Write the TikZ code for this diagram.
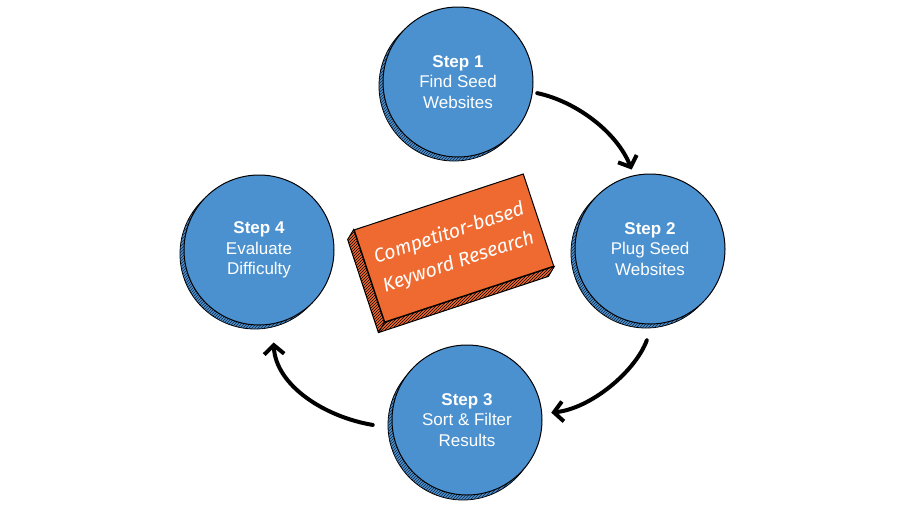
\documentclass[tikz,border=0pt]{standalone}
\usepackage{fontspec}
\setmainfont{Liberation Sans}
\newfontfamily\handfont{Fira Sans}
\usetikzlibrary{calc,patterns,arrows.meta}
\definecolor{stepblue}{HTML}{4B91CF}
\definecolor{boxorange}{HTML}{EF6A30}
\definecolor{hatchcol}{HTML}{17253F}
\pgfdeclarelayer{background}
\pgfsetlayers{background,main}
\begin{document}
\begin{tikzpicture}[x=1pt,y=-1pt,
  stepcircle/.style={circle, fill=stepblue, draw=black, line width=1pt,
    minimum size=150pt, inner sep=0pt, text=white, align=center,
    font=\fontsize{17}{20.5}\selectfont},
  stepshadow/.style={circle, fill=stepblue, draw=black, line width=0.8pt,
    minimum size=150pt, inner sep=0pt,
    postaction={pattern=north east lines, pattern color=hatchcol}},
  flowarrow/.style={line width=4pt, line cap=round,
    -{Straight Barb[length=9pt,width=20pt]}},
  kwbox/.style={rectangle, fill=boxorange, draw=black, line width=1pt,
    minimum width=178pt, minimum height=97pt, rotate=18.3, text=white,
    align=center, font=\handfont\itshape\fontsize{19.5}{30}\selectfont}]
\useasboundingbox (0,0) rectangle (900,520);

% shadows of the circles
\node[stepshadow] (s1sh) at (454,86) {};
\node[stepshadow] (s2sh) at (646,253) {};
\node[stepshadow] (s3sh) at (463,425) {};
\node[stepshadow] (s4sh) at (255,254) {};

% step circles
\node[stepcircle] (s1) at (458,82) {\textbf{Step 1}\\Find Seed\\Websites};
\node[stepcircle] (s2) at (650,249) {\textbf{Step 2}\\Plug Seed\\Websites};
\node[stepcircle] (s3) at (467,420) {\textbf{Step 3}\\Sort \& Filter\\Results};
\node[stepcircle] (s4) at (259,250) {\textbf{Step 4}\\Evaluate\\Difficulty};

% central box
\node[kwbox] (kw) at (454,248) {Competitor-based\\Keyword Research};
\begin{pgfonlayer}{background}
  \draw[fill=boxorange, line width=1pt,
        postaction={pattern=north east lines, pattern color=black}]
    (kw.north west) -- ($(kw.north west)+(-6,10)$)
    -- ($(kw.south west)+(-6,10)$) -- ($(kw.south east)+(-6,10)$)
    -- (kw.south east) -- (kw.south west) -- cycle;
\end{pgfonlayer}
\draw[line width=1pt] (kw.south west) -- ($(kw.south west)+(-6,10)$);

% arrows
\draw[flowarrow] ($(s1.center)!1.06!(s1.-8)$)
  .. controls +(38,8) and +(-15,-38) .. ($(s2.center)!1.08!(s2.103)$);
\draw[flowarrow] ($(s2.center)!1.21!(s2.-92)$)
  .. controls +(-12,32) and +(39,-4) .. ($(s3.center)!1.12!(s3.5)$);
\draw[flowarrow] ($(s3.center)!1.25!(s3.183)$)
  .. controls +(-48,-8) and +(2,43) .. ($(s4.center)!1.24!(s4.-81)$);
\end{tikzpicture}
\end{document}
